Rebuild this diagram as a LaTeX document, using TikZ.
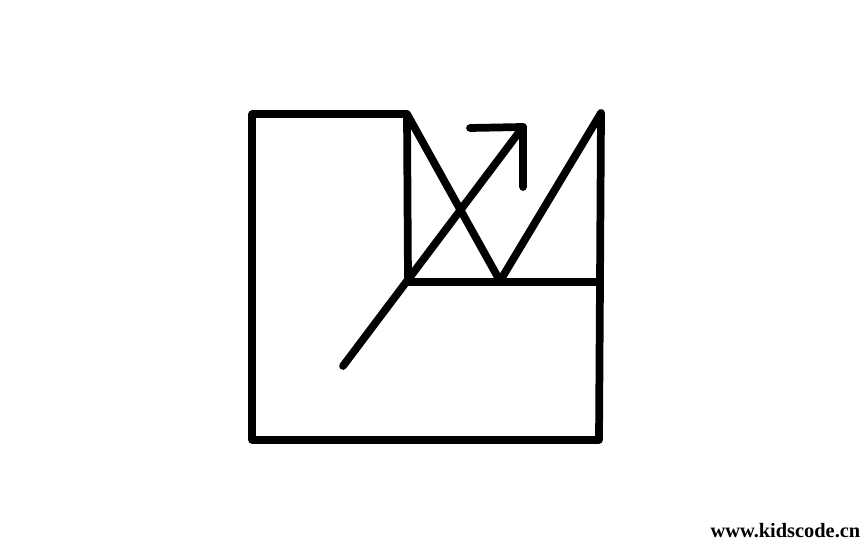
\documentclass[tikz,border=0pt]{standalone}
\usepackage{fontspec}
\setmainfont{Liberation Serif}
\usetikzlibrary{positioning, calc}

\tikzset{
  stroke/.style={line width=2.2pt, line cap=round, line join=round, black}
}

\begin{document}
\begin{tikzpicture}[x=0.01cm, y=-0.01cm]
  \useasboundingbox (0,0) rectangle (864,540);

  % Corner points
  \coordinate (tl) at (252,114);
  \coordinate (tm) at (407,114);
  \coordinate (vee) at (500,281);
  \coordinate (tr) at (601,113);
  \coordinate (mr) at (600,282);
  \coordinate (mm) at (408,282);
  \coordinate (br) at (599,440);
  \coordinate (bl) at (252,440);

  % Outline
  \draw[stroke] (mr) -- (br) -- (bl) -- (tl) -- (tm) -- (vee) -- (tr) -- (mr) -- (mm) -- (tm);

  % Arrow
  \coordinate (start) at (343,366);
  \coordinate (tip) at (523,127);
  \coordinate (wingL) at (470,128);
  \coordinate (wingD) at (523,187);
  \draw[stroke] (start) -- (tip);
  \draw[stroke] (wingL) -- (tip) -- (wingD);

  % Watermark
  \node[font=\bfseries\fontsize{5.8}{7}\selectfont, anchor=south east, inner sep=0pt] (mark) at (861,538) {www.kidscode.cn};
\end{tikzpicture}
\end{document}
